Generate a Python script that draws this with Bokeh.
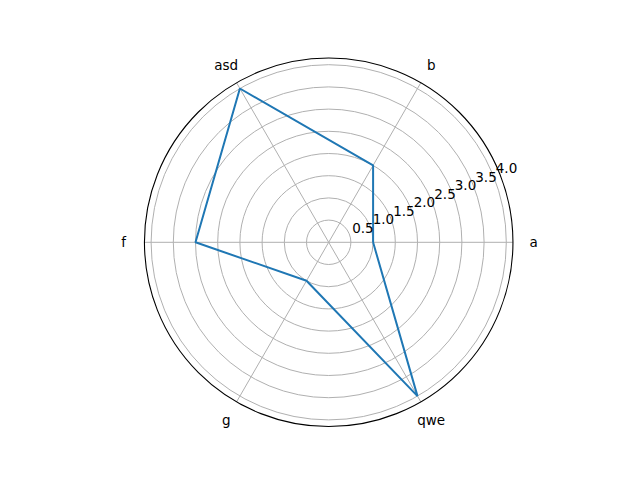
import numpy as np
from bokeh.plotting import figure
from bokeh.models import Range1d
from bokeh.core.properties import value
from bokeh.embed import file_html
from bokeh.resources import INLINE

categories = ["a", "b", "asd", "f", "g", "qwe"]
values = [1, 2, 4, 3, 1, 4]
r_ticks = [0.5, 1.0, 1.5, 2.0, 2.5, 3.0, 3.5, 4.0]
r_tick_labels = ["0.5", "1.0", "1.5", "2.0", "2.5", "3.0", "3.5", "4.0"]
r_max = 4.15

W, H = 624, 464
cx, cy = 328.2, 241.8      # centre in figure pixels (from top-left)
scale = 44.4               # px per unit

p = figure(width=W, height=H, output_backend="svg", toolbar_location=None,
           x_range=Range1d(-cx / scale, (W - cx) / scale),
           y_range=Range1d(-(H - cy) / scale, cy / scale),
           min_border=0)
p.axis.visible = False
p.grid.visible = False
p.outline_line_color = None
p.background_fill_color = "white"

n = len(categories)
angles = np.array([2 * np.pi * i / n for i in range(n)])

# grid circles
p.circle(x=[0] * len(r_ticks), y=[0] * len(r_ticks), radius=r_ticks,
         fill_color=None, line_color="#b0b0b0", line_width=1)
# spokes
p.segment(x0=[0] * n, y0=[0] * n, x1=list(r_max * np.cos(angles)),
          y1=list(r_max * np.sin(angles)), line_color="#b0b0b0", line_width=1)
# outer spine
p.circle(x=[0], y=[0], radius=r_max, fill_color=None, line_color="black", line_width=1.1)

# data line (closed)
vals = np.array(values + values[:1], dtype=float)
ang = np.concatenate([angles, angles[:1]])
p.line(x=list(vals * np.cos(ang)), y=list(vals * np.sin(ang)),
       line_color="#1f77b4", line_width=2)

# category labels
lab_r = 205 / scale
p.text(x=list(lab_r * np.cos(angles)), y=list(lab_r * np.sin(angles)), text=categories,
       text_font=value("DejaVu Sans"), text_font_size="13.5px",
       text_align="center", text_baseline="middle", text_color="black")

# radial tick labels at 22.5 degrees
ra = np.deg2rad(22.5)
rt = np.array(r_ticks)
p.text(x=list(rt * np.cos(ra)), y=list(rt * np.sin(ra)), text=r_tick_labels,
       x_offset=3, y_offset=-1,
       text_font=value("DejaVu Sans"), text_font_size="13.5px",
       text_align="left", text_baseline="bottom", text_color="black")

open("out.html", "w").write(file_html(p, INLINE))
